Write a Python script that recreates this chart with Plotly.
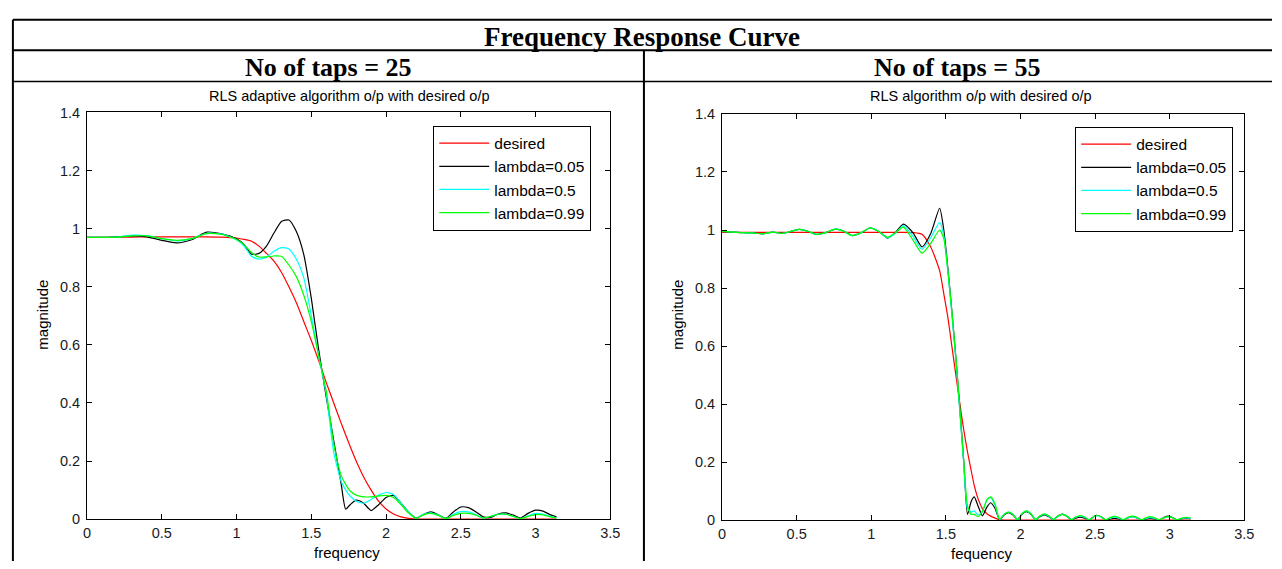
import plotly.graph_objects as go

W, H = 1282, 569          # browser window == figure size (page margin removed below)

# ---------------- data ----------------
SERIES_NAMES = ["desired", "lambda=0.05", "lambda=0.5", "lambda=0.99"]
SERIES_COLORS = ["#ff0000", "#000000", "#00ffff", "#00ff00"]

# No of taps = 25
FREQ_L = [0, 0.1, 0.2, 0.3, 0.4, 0.5, 0.6, 0.7, 0.8, 0.9, 1.0, 1.05, 1.1, 1.15, 1.2,
          1.25, 1.3, 1.35, 1.4, 1.45, 1.5, 1.55, 1.6, 1.65, 1.7, 1.73, 1.76, 1.8, 1.85,
          1.9, 1.95, 2.0, 2.05, 2.1, 2.15, 2.2, 2.25, 2.3, 2.35, 2.4, 2.45, 2.5, 2.55,
          2.6, 2.65, 2.7, 2.75, 2.8, 2.85, 2.9, 2.95, 3.0, 3.05, 3.1, 3.14]
DESIRED_L = [0.97, 0.97, 0.97, 0.971, 0.972, 0.972, 0.972, 0.972, 0.972, 0.971, 0.968,
             0.963, 0.957, 0.94, 0.915, 0.888, 0.85, 0.80, 0.745, 0.68, 0.615, 0.545,
             0.47, 0.40, 0.33, 0.29, 0.25, 0.2, 0.145, 0.1, 0.062, 0.035, 0.018, 0.008,
             0.003, 0.001, 0, 0, 0, 0, 0, 0, 0, 0, 0, 0, 0, 0, 0, 0, 0, 0, 0, 0, 0]
LAM005_L = [0.97, 0.97, 0.972, 0.975, 0.972, 0.96, 0.951, 0.962, 0.988, 0.982, 0.965,
            0.945, 0.912, 0.915, 0.94, 0.985, 1.025, 1.03, 0.99, 0.91, 0.76, 0.58, 0.42,
            0.27, 0.12, 0.035, 0.05, 0.066, 0.055, 0.03, 0.05, 0.075, 0.082, 0.055,
            0.025, 0.004, 0.016, 0.025, 0.015, 0.003, 0.025, 0.042, 0.04, 0.026, 0.008,
            0.006, 0.018, 0.022, 0.014, 0.004, 0.02, 0.031, 0.028, 0.015, 0.008]
LAM05_L = [0.97, 0.97, 0.971, 0.978, 0.976, 0.966, 0.958, 0.966, 0.984, 0.981, 0.962,
           0.94, 0.905, 0.895, 0.902, 0.922, 0.935, 0.93, 0.895, 0.83, 0.70, 0.56, 0.43,
           0.23, 0.13, 0.1, 0.08, 0.062, 0.055, 0.068, 0.083, 0.092, 0.085, 0.055,
           0.025, 0.003, 0.017, 0.022, 0.014, 0.002, 0.017, 0.026, 0.025, 0.016, 0.004,
           0.01, 0.017, 0.017, 0.01, 0.002, 0.012, 0.02, 0.018, 0.01, 0.005]
LAM099_L = [0.97, 0.97, 0.971, 0.975, 0.975, 0.966, 0.96, 0.966, 0.983, 0.98, 0.963,
            0.945, 0.918, 0.902, 0.903, 0.906, 0.905, 0.875, 0.835, 0.77, 0.68, 0.56,
            0.44, 0.26, 0.15, 0.12, 0.097, 0.083, 0.077, 0.077, 0.08, 0.082, 0.075,
            0.05, 0.022, 0.003, 0.015, 0.02, 0.013, 0.002, 0.013, 0.02, 0.02, 0.014,
            0.004, 0.01, 0.017, 0.017, 0.01, 0.002, 0.01, 0.016, 0.015, 0.008, 0.004]

# No of taps = 55
FREQ_R = [0, 0.1, 0.2, 0.28, 0.34, 0.40, 0.46, 0.52, 0.58, 0.63, 0.70, 0.76, 0.82, 0.87,
          0.93, 0.99, 1.05, 1.11, 1.16, 1.215, 1.28, 1.34, 1.40, 1.458, 1.486, 1.513,
          1.54, 1.567, 1.594, 1.62, 1.645, 1.67, 1.69, 1.715, 1.745, 1.775, 1.80, 1.83,
          1.86, 1.89, 1.92, 1.95, 1.98, 2.01, 2.04, 2.07, 2.10, 2.13, 2.16, 2.19, 2.22,
          2.25, 2.28, 2.31, 2.34, 2.37, 2.40, 2.43, 2.46, 2.49, 2.51, 2.54, 2.57, 2.60,
          2.63, 2.66, 2.69, 2.72, 2.75, 2.78, 2.81, 2.84, 2.87, 2.90, 2.93, 2.96, 2.99,
          3.02, 3.05, 3.08, 3.11, 3.14]
DESIRED_R = [0.992] * 20 + [0.991, 0.985, 0.94, 0.86, 0.78, 0.70, 0.60, 0.50, 0.40, 0.31,
                            0.235, 0.17, 0.12, 0.075, 0.04, 0.022, 0.014, 0.007, 0.002] + [0] * 43
PASS_R = [0.995, 0.992, 0.99, 0.987, 0.993, 0.988, 0.995, 1.002, 0.995, 0.985, 0.992,
          1.003, 0.995, 0.981, 0.99, 1.007, 0.995]
LAM005_R = PASS_R + [0.972, 0.99, 1.02, 0.99, 0.942, 0.99, 1.075, 1.0, 0.87, 0.72, 0.56,
                     0.38, 0.2, 0.02, 0.065, 0.08, 0.05, 0.015, 0.045, 0.06, 0.04, 0.002,
                     0.018, 0.026, 0.018, 0.002, 0.02, 0.029, 0.02, 0.002, 0.012, 0.018,
                     0.012, 0.002, 0.014, 0.021, 0.014, 0.002, 0.007, 0.01, 0.007, 0.001,
                     0.012, 0.017, 0.012, 0.001, 0.004, 0.006, 0.004, 0.001, 0.008, 0.012,
                     0.008, 0.001, 0.004, 0.006, 0.004, 0.001, 0.009, 0.014, 0.009, 0.001,
                     0.005, 0.007, 0.005]
LAM05_R = PASS_R + [0.973, 0.988, 1.015, 0.978, 0.933, 0.975, 1.026, 0.98, 0.86, 0.71, 0.55,
                    0.37, 0.19, 0.04, 0.028, 0.032, 0.018, 0.03, 0.07, 0.078, 0.05, 0.002,
                    0.02, 0.028, 0.02, 0.002, 0.022, 0.032, 0.022, 0.002, 0.014, 0.02,
                    0.014, 0.002, 0.014, 0.02, 0.014, 0.002, 0.01, 0.014, 0.01, 0.001,
                    0.011, 0.016, 0.011, 0.001, 0.007, 0.01, 0.007, 0.001, 0.008, 0.012,
                    0.008, 0.001, 0.006, 0.009, 0.006, 0.001, 0.008, 0.011, 0.008, 0.001,
                    0.006, 0.008, 0.006]
LAM099_R = PASS_R + [0.975, 0.99, 1.01, 0.965, 0.92, 0.955, 1.0, 0.97, 0.86, 0.72, 0.56,
                     0.38, 0.2, 0.05, 0.02, 0.02, 0.012, 0.03, 0.07, 0.08, 0.055, 0.003,
                     0.02, 0.028, 0.02, 0.002, 0.022, 0.032, 0.022, 0.002, 0.015, 0.022,
                     0.015, 0.002, 0.014, 0.02, 0.014, 0.002, 0.011, 0.016, 0.011, 0.001,
                     0.012, 0.017, 0.012, 0.001, 0.009, 0.013, 0.009, 0.001, 0.01, 0.014,
                     0.01, 0.001, 0.008, 0.012, 0.008, 0.001, 0.008, 0.012, 0.008, 0.001,
                     0.007, 0.01, 0.007]

X_TICKS = [0, 0.5, 1, 1.5, 2, 2.5, 3, 3.5]
Y_TICKS = [0, 0.2, 0.4, 0.6, 0.8, 1, 1.2, 1.4]

MAIN_TITLE = "Frequency Response Curve"
COL_TITLES = ["No of taps = 25", "No of taps = 55"]
PLOT_TITLES = ["RLS adaptive algorithm o/p with desired o/p", "RLS algorithm o/p with desired o/p"]
X_LABELS = ["frequency", "fequency"]
Y_LABEL = "magnitude"

for arr in (DESIRED_L, LAM005_L, LAM05_L, LAM099_L):
    assert len(arr) == len(FREQ_L), len(arr)
for arr in (DESIRED_R, LAM005_R, LAM05_R, LAM099_R):
    assert len(arr) == len(FREQ_R), len(arr)

# ---------------- helpers: window pixel -> paper ----------------
def px(x):
    return x / W


def py(y):
    return 1 - y / H


SANS = "Liberation Sans, Arial, sans-serif"
SERIF = "Liberation Serif, Times New Roman, serif"

fig = go.Figure()

panels = [
    (FREQ_L, [DESIRED_L, LAM005_L, LAM05_L, LAM099_L], "x", "y", "legend"),
    (FREQ_R, [DESIRED_R, LAM005_R, LAM05_R, LAM099_R], "x2", "y2", "legend2"),
]
for freq, ys, xa, ya, lg in panels:
    for name, color, yv in zip(SERIES_NAMES, SERIES_COLORS, ys):
        fig.add_trace(go.Scatter(
            x=freq, y=yv, mode="lines", name=name, xaxis=xa, yaxis=ya, legend=lg,
            line=dict(color=color, width=1.2, shape="spline", smoothing=0.6),
            legendgroup=lg + name, hoverinfo="skip",
        ))

axis_common = dict(
    showline=True, linecolor="black", linewidth=1, mirror="ticks",
    ticks="inside", ticklen=5, tickcolor="black", showgrid=False, zeroline=False,
    tickfont=dict(family=SANS, size=14.5, color="#1a1a1a"),
)

legend_common = dict(
    xanchor="left", yanchor="top", bordercolor="black", borderwidth=1,
    bgcolor="white", itemwidth=50, tracegroupgap=0,
    font=dict(family=SANS, size=15.5, color="black"),
)

fig.update_layout(
    width=W, height=H, margin=dict(l=0, r=0, t=0, b=0),
    paper_bgcolor="white", plot_bgcolor="white",
    xaxis=dict(domain=[px(84), px(613)], range=[0, 3.5], tickvals=X_TICKS,
               anchor="y", **axis_common),
    yaxis=dict(domain=[py(526), py(107.5)], range=[0, 1.4], tickvals=Y_TICKS,
               anchor="x", ticklabelstandoff=3, **axis_common),
    xaxis2=dict(domain=[px(726), px(1254)], range=[0, 3.5], tickvals=X_TICKS,
                anchor="y2", **axis_common),
    yaxis2=dict(domain=[py(527), py(109)], range=[0, 1.4], tickvals=Y_TICKS,
                anchor="x2", ticklabelstandoff=3, **axis_common),
    legend=dict(x=px(434), y=py(121), **legend_common),
    legend2=dict(x=px(1083), y=py(122), **legend_common),
    showlegend=True,
)

# ---------------- table borders ----------------
lines = [
    (9, 12, W, 12, 2),
    (9, 43.5, W, 43.5, 2),
    (9, 75.5, W, 75.5, 1.5),
    (9, 12, 9, H, 2),
    (647, 43.5, 647, H, 2),
]
for x0, y0, x1, y1, w in lines:
    fig.add_shape(type="line", xref="paper", yref="paper",
                  x0=px(x0), y0=py(y0), x1=px(x1), y1=py(y1),
                  line=dict(color="black", width=w))

# ---------------- texts ----------------
def note(text, x, y, size, family, bold=False, angle=0):
    fig.add_annotation(text=text, x=px(x), y=py(y), xref="paper", yref="paper",
                       showarrow=False, xanchor="center", yanchor="middle",
                       textangle=angle,
                       font=dict(family=family, size=size, color="black",
                                 weight="bold" if bold else "normal"))


note(MAIN_TITLE, 645, 30, 27, SERIF, bold=True)
note(COL_TITLES[0], 328, 61, 26, SERIF, bold=True)
note(COL_TITLES[1], 964, 61, 26, SERIF, bold=True)
note(PLOT_TITLES[0], 349, 91, 14.5, SANS)
note(PLOT_TITLES[1], 988, 91, 14.5, SANS)
note(X_LABELS[0], 347, 560, 15, SANS)
note(X_LABELS[1], 988, 561, 15, SANS)
note(Y_LABEL, 39, 316, 15, SANS, angle=-90)
note(Y_LABEL, 681, 316, 15, SANS, angle=-90)

fig.write_html("out.html", config={"displayModeBar": False},
               post_script="document.body.style.margin='0';")
